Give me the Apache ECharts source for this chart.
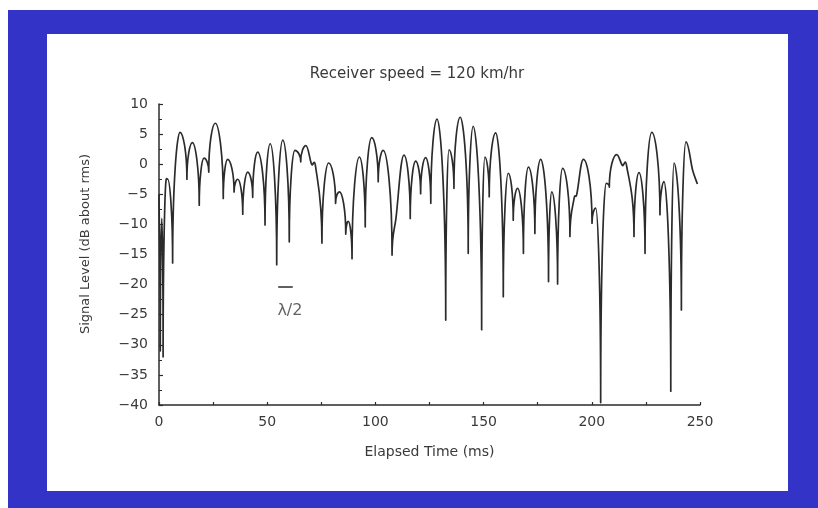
<!DOCTYPE html>
<html>
<head>
<meta charset="utf-8">
<script src="https://cdn.jsdelivr.net/npm/echarts@6/dist/echarts.min.js"></script>
<style>
  html, body { margin: 0; padding: 0; background: #ffffff; }
  #chart { width: 818px; height: 508px; }
</style>
</head>
<body>
<div id="chart"></div>
<script>
// Received signal envelope of a mobile receiver moving at 120 km/h
const chartTitle = 'Receiver speed = 120 km/hr';
const xAxisTitle = 'Elapsed Time (ms)';
const yAxisTitle = 'Signal Level (dB about rms)';

// Elapsed time (ms) at peaks, nulls and shoulders of the fading trace
const timeMs = [
  0, 0.6, 1.3, 1.9, 2.6, 4.0, 6.3, 9.7, 12.9, 15.4,
  18.6, 20.8, 23.0, 26.0, 29.7, 31.7, 34.7, 36.4, 38.7, 41.0,
  43.3, 45.6, 49.0, 51.4, 54.4, 57.2, 60.2, 62.8, 65.5, 67.9,
  70.5, 72.4, 75.3, 78.4, 81.6, 83.4, 86.3, 87.5, 89.2, 92.6,
  95.3, 98.3, 101.3, 103.6, 107.7, 109.5, 113.2, 116.1, 118.6, 120.9,
  123.2, 125.6, 128.5, 132.5, 134.0, 136.3, 139.2, 142.9, 145.2, 149.1,
  150.6, 152.6, 155.6, 159.1, 161.4, 163.7, 165.7, 168.4, 170.7, 173.7,
  176.4, 180.0, 181.5, 184.2, 186.5, 189.9, 191.8, 193.0, 196.1, 200.1,
  201.8, 204.1, 206.6, 208.1, 211.5, 214.1, 216.1, 219.5, 221.8, 224.6,
  227.7, 231.5, 233.4, 236.5, 238.0, 241.4, 243.5, 246.6, 248.8
];

// Signal level (dB about rms) at the same instants
const levelDb = [
  -5, -31, -9, -32, -8, -2.5, -16.4, 5.3, -2.5, 3.6,
  -6.8, 1.0, -1.3, 6.8, -5.7, 0.8, -4.6, -2.5, -8.3, -1.3,
  -5.5, 2.0, -10.1, 3.4, -16.7, 4.0, -12.9, 2.3, 0.4, 3.1,
  0.0, -0.5, -13.1, 0.2, -6.5, -4.6, -11.6, -9.5, -15.7, 1.2,
  -10.4, 4.4, -2.9, 2.3, -15.1, -9.0, 1.5, -9.0, 0.5, -4.9,
  1.1, -6.5, 7.5, -25.9, 2.4, -4.0, 7.8, -14.8, 6.3, -27.5,
  1.2, -5.4, 5.2, -22.0, -1.5, -9.3, -4.0, -14.8, -0.5, -11.5,
  0.8, -19.5, -4.6, -19.9, -0.7, -12.0, -5.7, -5.1, 0.8, -9.8,
  -7.3, -39.6, -3.2, -3.8, 1.6, -0.2, -0.3, -12.0, -1.4, -14.8,
  5.3, -8.4, -2.9, -37.7, 0.2, -24.2, 3.7, -1.0, -3.3
];

// Half-wavelength scale bar (ms, dB) and its label
const halfWaveBar = [[55.1, -20.4], [61.8, -20.4]];
const halfWaveLabel = { text: 'λ/2', at: [60.5, -24.3] };

// Axis ranges and tick spacing
const xRange = { min: 0, max: 250, interval: 50 };
const yRange = { min: -40, max: 10, interval: 5 };

const ink = '#2b2b2b';
const textInk = '#3a3a3a';
const font = 'DejaVu Sans';

const trace = timeMs.map((t, i) => [t, levelDb[i]]);

// Fading envelope: rounded crests, cusp-like nulls.
// Crests get horizontal tangents, nulls get vertical ones,
// intermediate shoulders follow their neighbours' slope.
function fadingPath(pts, values) {
  const n = pts.length;
  const kind = values.map((v, i) => {
    if (i === 0 || i === n - 1) return 'mid';
    if (v >= values[i - 1] && v >= values[i + 1]) return 'max';
    if (v <= values[i - 1] && v <= values[i + 1]) return 'min';
    return 'mid';
  });
  const slope = i => {
    const a = pts[Math.max(0, i - 1)], b = pts[Math.min(n - 1, i + 1)];
    return (b[1] - a[1]) / (b[0] - a[0]);
  };
  const crest = 0.42, cusp = 0.6, shoulder = 0.35;
  let d = 'M' + pts[0][0] + ',' + pts[0][1];
  for (let i = 0; i < n - 1; i++) {
    const p0 = pts[i], p1 = pts[i + 1];
    const dx = p1[0] - p0[0], dy = p1[1] - p0[1];
    let c1, c2;
    if (kind[i] === 'max') c1 = [p0[0] + crest * dx, p0[1]];
    else if (kind[i] === 'min') c1 = [p0[0], p0[1] + cusp * dy];
    else { const s = slope(i); c1 = [p0[0] + shoulder * dx, p0[1] + s * shoulder * dx]; }
    if (kind[i + 1] === 'max') c2 = [p1[0] - crest * dx, p1[1]];
    else if (kind[i + 1] === 'min') c2 = [p1[0], p1[1] - cusp * dy];
    else { const s = slope(i + 1); c2 = [p1[0] - shoulder * dx, p1[1] - s * shoulder * dx]; }
    d += 'C' + c1[0] + ',' + c1[1] + ' ' + c2[0] + ',' + c2[1] + ' ' + p1[0] + ',' + p1[1];
  }
  return d;
}

const chart = echarts.init(document.getElementById('chart'), null, { renderer: 'canvas' });

chart.setOption({
  backgroundColor: '#ffffff',
  animation: false,
  title: {
    text: chartTitle,
    left: 412,
    top: 62,
    textAlign: 'center',
    textStyle: { fontFamily: font, fontSize: 15, fontWeight: 'normal', color: textInk }
  },
  graphic: [
    { type: 'rect', z: -10, silent: true,
      shape: { x: 8, y: 10, width: 810, height: 498 },
      style: { fill: '#3433c8' } },
    { type: 'rect', z: -9, silent: true,
      shape: { x: 47, y: 34, width: 741, height: 457 },
      style: { fill: '#ffffff' } },
    { type: 'text', z: 10, silent: true,
      x: 86, y: 244, rotation: Math.PI / 2,
      style: { text: yAxisTitle, fontFamily: font, fontSize: 13,
               fill: textInk, align: 'center', verticalAlign: 'middle' } }
  ],
  grid: { left: 159, top: 104, width: 541, height: 301, containLabel: false },
  xAxis: {
    type: 'value',
    min: xRange.min, max: xRange.max, interval: xRange.interval,
    name: xAxisTitle,
    nameLocation: 'middle',
    nameGap: 40,
    nameTextStyle: { fontFamily: font, fontSize: 14, color: textInk },
    axisLine: { show: true, onZero: false, lineStyle: { color: ink, width: 1.5 } },
    axisTick: { show: true, inside: true, length: 3, lineStyle: { color: ink, width: 1.2 } },
    minorTick: { show: true, splitNumber: 2, length: 3, lineStyle: { color: ink, width: 1.2 } },
    axisLabel: { fontFamily: font, fontSize: 14, color: textInk, margin: 10 },
    splitLine: { show: false }
  },
  yAxis: {
    type: 'value',
    min: yRange.min, max: yRange.max, interval: yRange.interval,
    axisLine: { show: true, onZero: false, lineStyle: { color: ink, width: 1.5 } },
    axisTick: { show: true, inside: true, length: 4, lineStyle: { color: ink, width: 1.2 } },
    minorTick: { show: true, splitNumber: 2, length: 3, lineStyle: { color: ink, width: 1 } },
    axisLabel: {
      fontFamily: font, fontSize: 14, color: textInk, margin: 11,
      formatter: v => String(v).replace('-', '\u2212')
    },
    splitLine: { show: false }
  },
  series: [
    {
      name: 'Signal level',
      type: 'custom',
      data: trace,
      encode: { x: 0, y: 1 },
      silent: true,
      renderItem: (params, api) => {
        if (params.dataIndex !== 0) return null;
        const pts = trace.map(p => api.coord(p));
        return {
          type: 'path',
          shape: { pathData: fadingPath(pts, levelDb) },
          style: { stroke: ink, lineWidth: 1.7, fill: null, lineJoin: 'round' }
        };
      }
    },
    {
      name: 'Scale bar',
      type: 'line',
      data: [],
      markLine: {
        silent: true,
        animation: false,
        symbol: ['none', 'none'],
        label: { show: false },
        lineStyle: { color: ink, width: 1.5, type: 'solid' },
        data: [[{ coord: halfWaveBar[0] }, { coord: halfWaveBar[1] }]]
      }
    },
    {
      name: 'Scale label',
      type: 'scatter',
      data: [halfWaveLabel.at],
      symbolSize: 0,
      silent: true,
      label: {
        show: true, position: 'inside', formatter: halfWaveLabel.text,
        fontFamily: font, fontSize: 16, color: textInk
      }
    }
  ]
});
</script>
</body>
</html>
